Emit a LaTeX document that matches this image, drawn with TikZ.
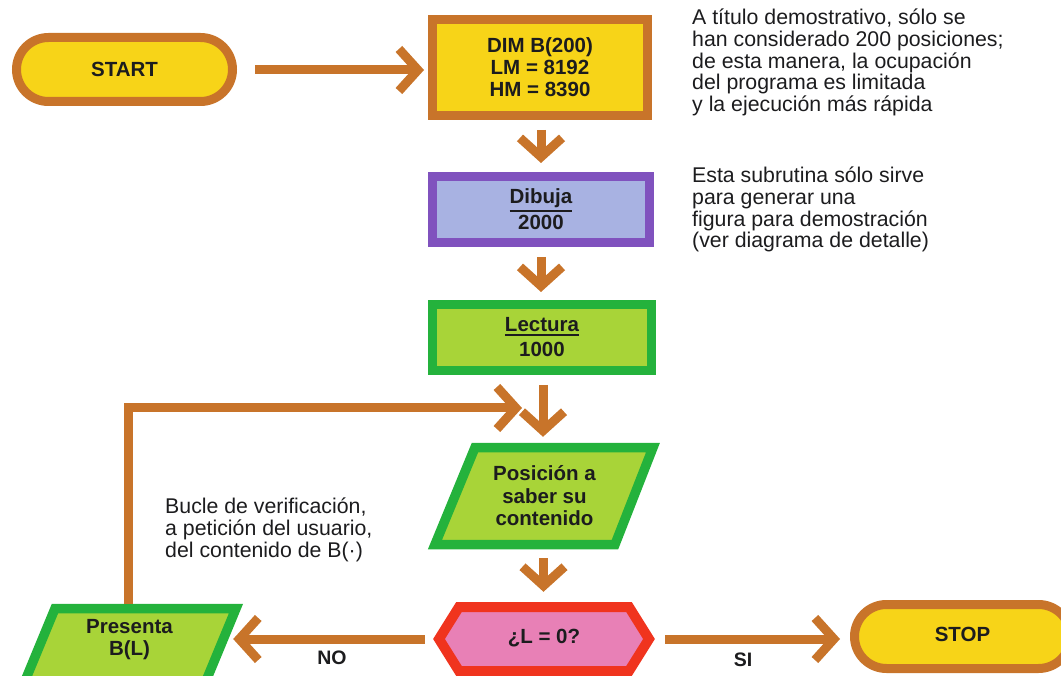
\documentclass[tikz,border=0pt]{standalone}
\usepackage{fontspec}
\setmainfont{Liberation Sans}
\usetikzlibrary{arrows.meta,calc}
\definecolor{brn}{RGB}{200,116,42}
\definecolor{yel}{RGB}{247,212,24}
\definecolor{pur}{RGB}{128,82,190}
\definecolor{lav}{RGB}{168,178,226}
\definecolor{grn}{RGB}{36,178,60}
\definecolor{lim}{RGB}{168,212,56}
\definecolor{redb}{RGB}{240,52,30}
\definecolor{pnk}{RGB}{232,128,182}
\definecolor{ink}{RGB}{28,28,30}
\newcommand\ulw[1]{\vtop{\hbox{#1}\kern1.5pt\hrule height 2pt}}
\begin{document}
\begin{tikzpicture}[x=1pt,y=-1pt,
  lbl/.style={font=\fontsize{20.5}{22}\selectfont\bfseries, text=ink, align=center, inner sep=0pt},
  note/.style={font=\fontsize{21.3}{21.7}\selectfont, text=ink, align=left, inner sep=0pt, anchor=north west},
  pill/.style={lbl, draw=brn, fill=yel, line width=9pt, rounded corners=32pt},
  rbox/.style 2 args={lbl, draw=#1, fill=#2, line width=9pt},
  shp/.style 2 args={draw=#1, fill=#2, line width=9.5pt, line join=miter},
  ghost/.style={lbl},
  arr/.style={draw=brn, line width=9pt, -{Straight Barb[length=19pt,width=42pt]}},
  tag/.style={font=\fontsize{19.5}{21}\selectfont\bfseries, text=ink, inner sep=0pt}]
\useasboundingbox (0,0) rectangle (1061,676);

% boxes
\node[pill, minimum width=216pt, minimum height=64pt] (start) at (124.5,69.5) {START};
\node[rbox={brn}{yel}, minimum width=215pt, minimum height=96pt] (dim) at (540,67.5) {DIM B(200)\\LM = 8192\\HM = 8390};
\node[rbox={pur}{lav}, minimum width=217pt, minimum height=66pt] (dib) at (541,209.5) {\ulw{Dibuja}\\[3pt]2000};
\node[rbox={grn}{lim}, minimum width=219pt, minimum height=66pt] (lec) at (542,337.5) {\ulw{Lectura}\\[3pt]1000};

% parallelogram: posicion
\path[shp={grn}{lim}] (475,447.5) -- (653,447.5) -- (615,544.5) -- (435,544.5) -- cycle;
\node[ghost, minimum width=227pt, minimum height=106pt, font=\fontsize{20.5}{22.5}\selectfont\bfseries] (pos) at (544.5,496) {Posición a\\saber su\\contenido};

% hexagon
\path[shp={redb}{pnk}, line width=10pt] (439,639) -- (459,607) -- (629,607) -- (649,639) -- (629,671) -- (459,671) -- cycle;
\node[ghost, minimum width=228pt, minimum height=74pt] (hex) at (544,639) {\raisebox{5pt}{¿L = 0?}};

% parallelogram: presenta
\path[shp={grn}{lim}] (55,608.5) -- (236,608.5) -- (206,681) -- (25,681) -- cycle;
\node[ghost, minimum width=225pt, minimum height=73pt] (pres) at (129.5,640.5) {\raisebox{1pt}{\begin{tabular}{@{}c@{}}Presenta\\B(L)\end{tabular}}};

% STOP
\node[pill, minimum width=216pt, minimum height=64pt] (stop) at (962.5,636.5) {\raisebox{4pt}{STOP}};

% connectors
\coordinate (loopend) at (522,408);
\draw[arr, shorten <=18pt, shorten >=4pt] ([yshift=-0.5pt]start.east) -- ([yshift=-0.5pt]start.east -| dim.west);
\draw[arr, shorten <=10pt, shorten >=9pt] ([xshift=1pt]dim.south) -- ([xshift=1pt]dim.south |- dib.north);
\draw[arr, shorten <=10pt, shorten >=8pt] (dib.south) -- (dib.south |- lec.north);
\draw[arr, shorten <=10pt, shorten >=6pt] ([xshift=1pt]lec.south) -- ([xshift=1pt]lec.south |- pos.north);
\draw[arr, shorten <=9pt, shorten >=10pt] ([xshift=-1pt]pos.south) -- ([xshift=-1pt]pos.south |- hex.north);
\draw[arr] ([xshift=-1pt]pres.north) |- (loopend);
\draw[arr] ([xshift=-5pt]hex.west) -- ([xshift=-9pt]hex.west -| pres.east);
\draw[arr] ([xshift=7pt]hex.east) -- ([xshift=-10pt]hex.east -| stop.west);

% labels on connectors
\node[tag] (no) at (332,658) {NO};
\node[tag] (si) at (743,660) {SI};

% notes
\node[note] (note1) at (692,9) {A título demostrativo, sólo se\\han considerado 200 posiciones;\\de esta manera, la ocupación\\del programa es limitada\\y la ejecución más rápida};
\node[note] (note2) at (692,167) {Esta subrutina sólo sirve\\para generar una\\figura para demostración\\(ver diagrama de detalle)};
\node[note] (note3) at (165,498) {Bucle de verificación,\\a petición del usuario,\\del contenido de B(·)};
\end{tikzpicture}
\end{document}
